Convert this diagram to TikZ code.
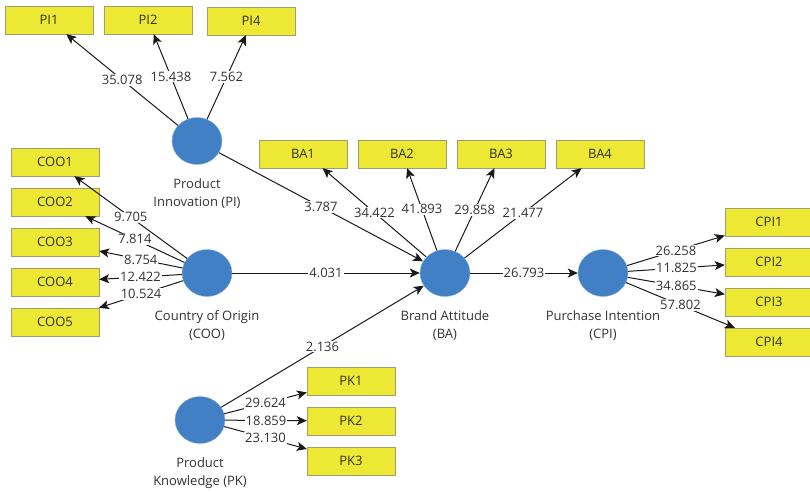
\documentclass[tikz,border=0pt]{standalone}
\usepackage{fontspec}
\setmainfont{Open Sans}
\usetikzlibrary{arrows.meta}
\usetikzlibrary{shapes.geometric}
\usetikzlibrary{positioning}

\definecolor{itemyellow}{RGB}{236,232,52}
\definecolor{itemedge}{RGB}{160,158,110}
\definecolor{lvblue}{RGB}{66,128,198}
\definecolor{txtgray}{RGB}{50,50,50}

\begin{document}
\begin{tikzpicture}[x=1pt,y=-1pt,
  font=\fontsize{13}{18}\selectfont,
  indicator/.style={draw=itemedge,fill=itemyellow,minimum width=88pt,minimum height=28pt,inner sep=0pt,text=txtgray},
  latent/.style={ellipse,fill=lvblue,draw=lvblue!60!white,minimum width=50pt,minimum height=47pt,inner sep=0pt},
  lvname/.style={align=center,text=txtgray,below=10pt of #1},
  load/.style={-{Stealth[length=10pt,width=9pt,inset=2.5pt]},line width=1pt,black!90},
  coef/.style={fill=white,inner sep=1pt,text=txtgray,pos=0.5}]
\useasboundingbox (0,0) rectangle (810,492);

% latent variables
\node[latent] (pi) at (197,141) {};
\node[latent] (coo) at (207,273) {};
\node[latent] (ba) at (445,273) {};
\node[latent] (cpi) at (603,273) {};
\node[latent] (pk) at (200,420) {};

\node[lvname=pi] (pi-name) {Product\\Innovation (PI)};
\node[lvname=coo] (coo-name) {Country of Origin\\(COO)};
\node[lvname=ba] (ba-name) {Brand Attitude\\(BA)};
\node[lvname=cpi] (cpi-name) {Purchase Intention\\(CPI)};
\node[lvname=pk] (pk-name) {Product\\Knowledge (PK)};

% indicators
\node[indicator] (pi1) at (49,20) {PI1};
\node[indicator] (pi2) at (148,20) {PI2};
\node[indicator] (pi4) at (251,21) {PI4};
\foreach \i in {1,...,5} {
  \node[indicator] (coo\i) at (55,122+40*\i) {COO\i};
}
\foreach \i in {1,...,4} {
  \node[indicator] (ba\i) at (204+99*\i,154) {BA\i};
  \node[indicator] (cpi\i) at (769,182+40*\i) {CPI\i};
}
\foreach \i in {1,...,3} {
  \node[indicator] (pk\i) at (351,341+40*\i) {PK\i};
}

% outer loadings
\draw[load] (pi) -- node[coef] {35.078} (pi1);
\draw[load] (pi) -- node[coef] {15.438} (pi2);
\draw[load] (pi) -- node[coef] {7.562} (pi4.-110);

\draw[load] (coo) -- node[coef] {9.705} (coo1);
\draw[load] (coo) -- node[coef] {7.814} (coo2);
\draw[load] (coo) -- node[coef] {8.754} (coo3);
\draw[load] (coo) -- node[coef] {12.422} (coo4);
\draw[load] (coo) -- node[coef] {10.524} (coo5);

\draw[load] (ba) -- node[coef] {34.422} (ba1.-36);
\draw[load] (ba) -- node[coef] {41.893} (ba2);
\draw[load] (ba) -- node[coef] {29.858} (ba3);
\draw[load] (ba) -- node[coef] {21.477} (ba4);

\draw[load] (cpi) -- node[coef] {26.258} (cpi1);
\draw[load] (cpi) -- node[coef] {11.825} (cpi2);
\draw[load] (cpi) -- node[coef] {34.865} (cpi3);
\draw[load] (cpi) -- node[coef] {57.802} (cpi4);

\draw[load] (pk) -- node[coef] {29.624} (pk1);
\draw[load] (pk) -- node[coef] {18.859} (pk2);
\draw[load] (pk) -- node[coef] {23.130} (pk3);

% inner model
\draw[load] (pi) -- node[coef] {3.787} (ba);
\draw[load] (coo) -- node[coef] {4.031} (ba);
\draw[load] (pk) -- node[coef] {2.136} (ba);
\draw[load] (ba) -- node[coef] {26.793} (cpi);
\end{tikzpicture}
\end{document}
